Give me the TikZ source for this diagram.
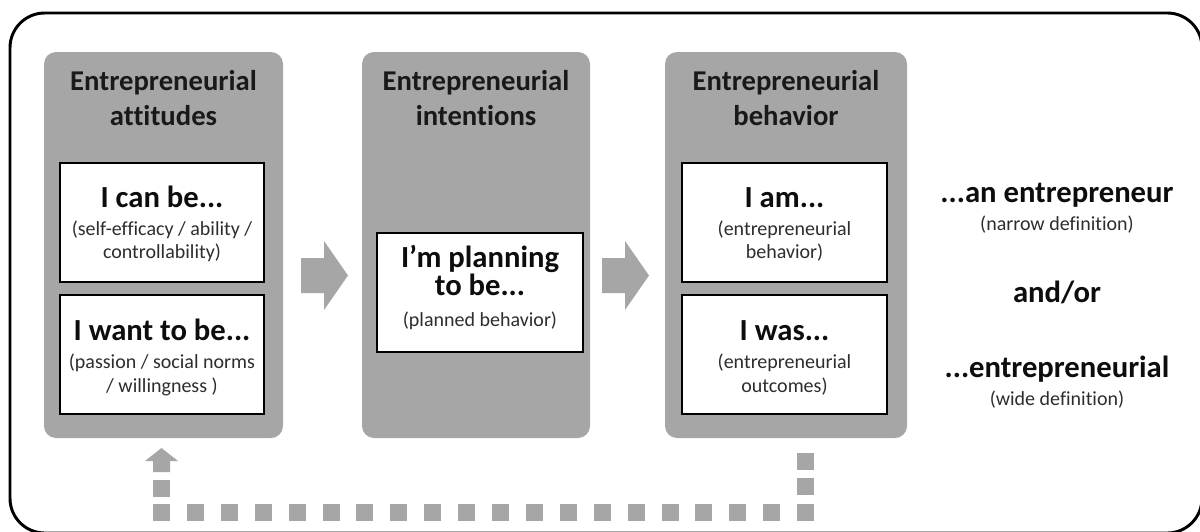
\documentclass[tikz,border=0pt]{standalone}
\usepackage{fontspec}
\setmainfont{Carlito}[Ligatures=NoCommon]
\definecolor{panelgray}{RGB}{166,166,166}
\definecolor{subtext}{RGB}{45,45,45}
\tikzset{
  panel/.style={fill=panelgray, rounded corners=9pt},
  whitebox/.style={draw=black, line width=0.8pt, fill=white},
  ptitle/.style={font=\bfseries\fontsize{21.5}{24}\selectfont, anchor=base, inner sep=0pt, text=black!90},
  stmt/.style={font=\bfseries\fontsize{23}{26}\selectfont, anchor=base, inner sep=0pt, text=black!95},
  subt/.style={font=\fontsize{15}{17}\selectfont, anchor=base, inner sep=0pt, text=subtext},
  blockarrow/.style={fill=panelgray},
  dot/.style={fill=panelgray}
}
\begin{document}
\begin{tikzpicture}[x=0.75pt,y=-0.75pt]
\clip (0,0) rectangle (1200,532);
\fill[white] (0,0) rectangle (1200,532);
% outer frame
\draw[line width=2.2pt, rounded corners=26pt] (10,13) rectangle (1202,533);

% panels
\path[panel] (44,52) rectangle (283,438);
\path[panel] (362,52) rectangle (590,438);
\path[panel] (665,52) rectangle (907,438);
\coordinate (a1) at (301,275.5);
\coordinate (a2) at (602,275.5);

% titles
\node[ptitle] (t1a) at (163.5,90) {Entrepreneurial};
\node[ptitle] (t1b) at (163.5,125) {attitudes};
\node[ptitle] (t2a) at (476,90) {Entrepreneurial};
\node[ptitle] (t2b) at (476,125) {intentions};
\node[ptitle] (t3a) at (786,90) {Entrepreneurial};
\node[ptitle] (t3b) at (786,125) {behavior};

% white boxes
\path[whitebox] (60,163) rectangle (264,282);
\path[whitebox] (60,295) rectangle (264,414);
\path[whitebox] (377,233) rectangle (583,352);
\path[whitebox] (682,163) rectangle (887,282);
\path[whitebox] (682,295) rectangle (887,414);

% box texts panel 1
\node[stmt] (s1) at (162,207) {I can be...};
\node[subt] (s1a) at (162,235) {(self-efficacy / ability /};
\node[subt] (s1b) at (162,258) {controllability)};
\node[stmt] (s2) at (162,340) {I want to be...};
\node[subt] (s2a) at (162,368) {(passion / social norms};
\node[subt] (s2b) at (162,392) {/ willingness )};
% panel 2
\node[stmt] (s3) at (480,267) {I’m planning};
\node[stmt] (s3a) at (480,295) {to be...};
\node[subt] (s3b) at (480,326) {(planned behavior)};
% panel 3
\node[stmt] (s4) at (784.5,207) {I am...};
\node[subt] (s4a) at (784.5,235) {(entrepreneurial};
\node[subt] (s4b) at (784.5,258) {behavior)};
\node[stmt] (s5) at (784.5,340) {I was...};
\node[subt] (s5a) at (784.5,368) {(entrepreneurial};
\node[subt] (s5b) at (784.5,392) {outcomes)};

% right side
\node[stmt] (r1) at (1057,202) {...an entrepreneur};
\node[subt] (r1a) at (1057,230) {(narrow definition)};
\node[stmt] (r2) at (1057,302) {and/or};
\node[stmt] (r3) at (1057,377) {...entrepreneurial};
\node[subt] (r3a) at (1057,405) {(wide definition)};

% block arrows
\foreach \a in {a1,a2} {
  \path[blockarrow] (\a) ++(0,-17.5) -- ++(23,0) -- ++(0,-17) -- ++(24,34.5)
     -- ++(-24,34.5) -- ++(0,-17) -- ++(-23,0) -- cycle;
}

% dotted feedback
\foreach \i in {0,...,19} {
  \path[dot] (153+\i*33.9,504) rectangle ++(17,17);
}
\path[dot] (797,453) rectangle ++(17,17);
\path[dot] (797,477.5) rectangle ++(17,17);
\path[dot] (153,480) rectangle ++(17,17);
\path[dot] (153,472) -- (153,461) -- (145,461) -- (161.5,448) -- (178,461) -- (170,461) -- (170,472) -- cycle;
\end{tikzpicture}
\end{document}
